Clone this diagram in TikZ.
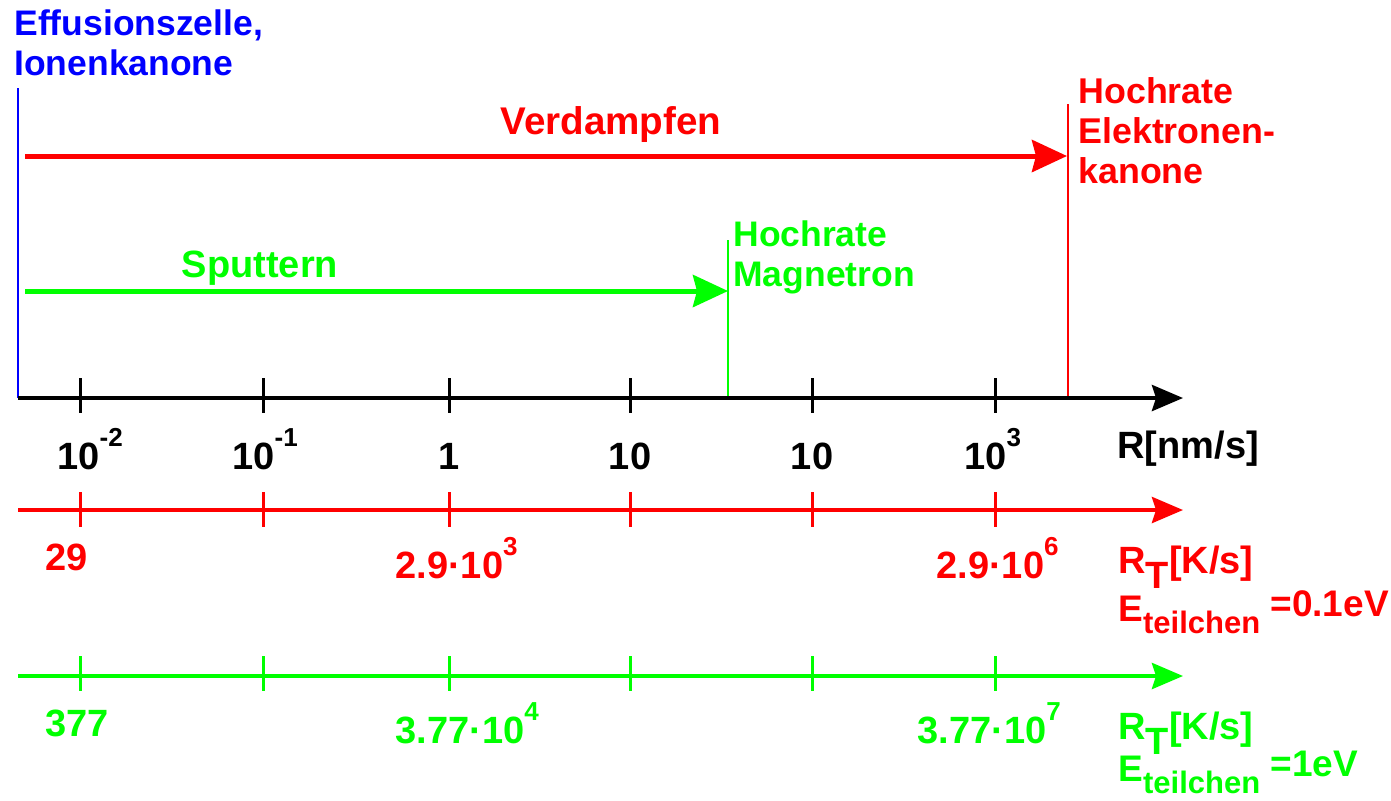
\documentclass[tikz,border=0pt]{standalone}
\usepackage{fontspec}
\setmainfont{Liberation Sans}
\usetikzlibrary{positioning, arrows.meta}
\definecolor{rtred}{RGB}{255,0,0}
\definecolor{rtgreen}{RGB}{0,255,0}
\definecolor{rtblue}{RGB}{0,0,255}
\newcommand{\hochz}[1]{\raisebox{11.5pt}{\fontsize{13}{13}\selectfont #1}}
\newcommand{\tiefT}{\raisebox{-7.5pt}{T}}
\newcommand{\teilchen}{\raisebox{-6pt}{\fontsize{15.5}{16}\selectfont teilchen}}

\begin{document}
\begin{tikzpicture}[x=0.5pt, y=-0.5pt, font=\bfseries\fontsize{19}{20}\selectfont,
    lbl/.style={inner sep=0pt, anchor=base west},
    bigarrow/.style={line width=2.5pt, -{Stealth[length=17.5pt, width=16pt, inset=2pt]}},
    scalearrow/.style={line width=2pt, -{Stealth[length=15.5pt, width=13pt, inset=2pt]}},
    tickmark/.style={line width=1.5pt},
    marker/.style={line width=1pt}]
  \useasboundingbox (0,0) rectangle (1391,800);

  % Quellen oben
  \node[inner sep=0pt, anchor=north west, align=left, text=rtblue,
        font=\bfseries\fontsize{17.75}{20}\selectfont] (effz) at (14,9)
        {Effusionszelle,\\Ionenkanone};
  \coordinate (bl0) at (18,88);
  \coordinate (bl1) at (18,398);
  \draw[rtblue, line width=1.3pt] (bl0) -- (bl1);

  \node[inner sep=0pt, anchor=base, text=rtred, font=\bfseries\fontsize{19.3}{20}\selectfont]
        (verd) at (611,134) {Verdampfen};
  \coordinate (vd0) at (25,156);
  \coordinate (vd1) at (1067,156);
  \draw[bigarrow, rtred] (vd0) -- (vd1);
  \coordinate (ek0) at (1068,104);
  \coordinate (ek1) at (1068,397);
  \draw[marker, rtred] (ek0) -- (ek1);
  \node[inner sep=0pt, anchor=north west, align=left, text=rtred,
        font=\bfseries\fontsize{17.9}{20}\selectfont] (ekan) at (1078,77)
        {Hochrate\\Elektronen-\\kanone};

  \node[inner sep=0pt, anchor=base, text=rtgreen] (sput) at (260,277) {Sputtern};
  \coordinate (sp0) at (25,291);
  \coordinate (sp1) at (728,291);
  \draw[bigarrow, rtgreen] (sp0) -- (sp1);
  \coordinate (mg0) at (728,240);
  \coordinate (mg1) at (728,397);
  \draw[marker, rtgreen] (mg0) -- (mg1);
  \node[inner sep=0pt, anchor=north west, align=left, text=rtgreen,
        font=\bfseries\fontsize{17.75}{20}\selectfont] (magn) at (733,220)
        {Hochrate\\Magnetron};

  % Rate R
  \coordinate (ax0) at (18,398);
  \coordinate (ax1) at (1183,398);
  \draw[scalearrow] (ax0) -- (ax1);
  \foreach \x in {80,263,449,630,812,995}
    \draw[tickmark] (\x,378) -- (\x,413);
  \node[lbl] (r1) at (57,469) {10\hochz{-2}};
  \node[lbl] (r2) at (232,469) {10\hochz{-1}};
  \node[lbl, anchor=base] (r3) at (449,469) {1};
  \node[lbl, anchor=base] (r4) at (630,469) {10};
  \node[lbl, anchor=base] (r5) at (812,469) {10};
  \node[lbl] (r6) at (964,469) {10\hochz{3}};
  \node[lbl] (runit) at (1117,458) {R[nm/s]};

  % Temperaturrate, 0.1 eV
  \coordinate (ta0) at (18,510);
  \coordinate (ta1) at (1183,510);
  \draw[scalearrow, rtred] (ta0) -- (ta1);
  \foreach \x in {80,263,449,630,812,995}
    \draw[tickmark, rtred] (\x,492) -- (\x,527);
  \node[lbl, text=rtred] (ta1l) at (45,570) {29};
  \node[lbl, text=rtred] (ta2l) at (395,578) {2.9·10\hochz{3}};
  \node[lbl, text=rtred] (ta3l) at (936,578) {2.9·10\hochz{6}};
  \node[lbl, text=rtred] (taunit) at (1118,573) {R\tiefT[K/s]};
  \node[lbl, text=rtred, font=\bfseries\fontsize{18.5}{20}\selectfont] (taE) at (1118,621)
        {E\teilchen{} \raisebox{2.5pt}{=0.1eV}};

  % Temperaturrate, 1 eV
  \coordinate (tb0) at (18,676);
  \coordinate (tb1) at (1183,676);
  \draw[scalearrow, rtgreen] (tb0) -- (tb1);
  \foreach \x in {80,263,449,630,812,995}
    \draw[tickmark, rtgreen] (\x,656) -- (\x,691);
  \node[lbl, text=rtgreen] (tb1l) at (45,736) {377};
  \node[lbl, text=rtgreen] (tb2l) at (395,743) {3.77·10\hochz{4}};
  \node[lbl, text=rtgreen] (tb3l) at (917,743) {3.77·10\hochz{7}};
  \node[lbl, text=rtgreen] (tbunit) at (1118,739) {R\tiefT[K/s]};
  \node[lbl, text=rtgreen, font=\bfseries\fontsize{18.5}{20}\selectfont] (tbE) at (1118,781)
        {E\teilchen{} \raisebox{2.5pt}{=1eV}};
\end{tikzpicture}
\end{document}
